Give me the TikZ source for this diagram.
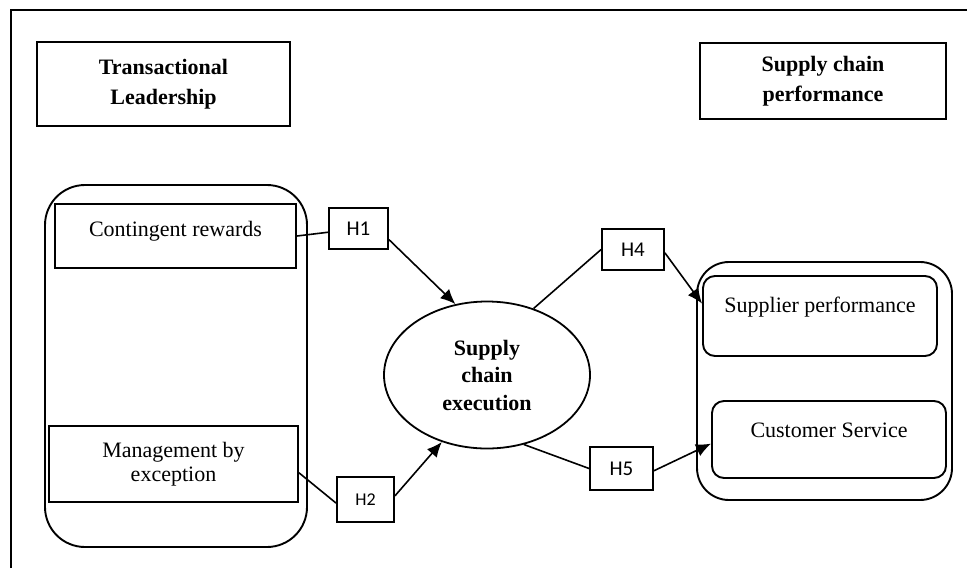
\documentclass[tikz,border=0pt]{standalone}
\usepackage{fontspec}
\setmainfont{Liberation Serif}
\newfontfamily\hypfont{Carlito}
\usetikzlibrary{arrows.meta,shapes.geometric}

\begin{document}
\begin{tikzpicture}[x=0.5pt, y=-0.5pt, line width=0.8pt, every node/.style={font=\fontsize{11}{14}\selectfont}]
\tikzset{hdr/.style={draw, line width=1pt, align=center, inner sep=0pt, font=\fontsize{11}{15}\selectfont\bfseries}}
\tikzset{grp/.style={draw, line width=0.95pt, inner sep=0pt}}
\tikzset{dim/.style={draw, line width=0.95pt, inner sep=2pt}}
\tikzset{dimr/.style={draw, line width=0.95pt, rounded corners=6pt, inner sep=2pt}}
\tikzset{hyp/.style={draw, line width=0.9pt, inner sep=0pt, font=\hypfont\fontsize{10.5}{12}\selectfont}}
\tikzset{var/.style={draw, ellipse, line width=0.9pt, inner sep=0pt, align=center, font=\fontsize{11}{13.75}\selectfont\bfseries}}
\tikzset{arr/.style={-{Latex[length=7.5pt,width=6.5pt]}}}
\useasboundingbox (0,0) rectangle (967,568);
\draw[line width=1.2pt] (11,568) -- (11,10) -- (967,10);
% headings
\node[hdr, minimum width=126.5pt, minimum height=42pt] (tl) at (163.5,84) {Transactional\\Leadership};
\node[hdr, minimum width=123pt, minimum height=38pt] (scp) at (823,81) {Supply chain\\performance};
% left group
\node[grp, rounded corners=20pt, minimum width=131pt, minimum height=181pt] (lgrp) at (176,366) {};
\node[dim, minimum width=120.5pt, minimum height=32pt, text height=7.5pt, text depth=7.5pt] (cr) at (175.5,236) {Contingent rewards};
\node[dim, minimum width=124.5pt, minimum height=38pt, align=center, font=\fontsize{11}{12}\selectfont] (mbe) at (173.5,464) {Management by\\exception};
% mediator
\node[var, minimum width=103pt, minimum height=73.5pt] (sce) at (487,375) {Supply\\chain\\execution};
% right group
\node[grp, rounded corners=16pt, minimum width=127.5pt, minimum height=119pt] (rgrp) at (824.5,381) {};
\node[dimr, minimum width=117pt, minimum height=40pt, text height=7.5pt, text depth=11.5pt] (sp) at (820,316) {Supplier performance};
\node[dimr, minimum width=117pt, minimum height=38.5pt, text height=7.5pt, text depth=10pt] (cs) at (829,439.5) {Customer Service};
% hypotheses
\node[hyp, minimum width=29.5pt, minimum height=20.5pt] (h1) at (358.5,228.5) {H1};
\node[hyp, minimum width=28.5pt, minimum height=22.5pt, font=\hypfont\fontsize{9}{11}\selectfont] (h2) at (365.5,499.5) {H2};
\node[hyp, minimum width=31pt, minimum height=20.5pt] (h4) at (633,249.5) {H4};
\node[hyp, minimum width=31.5pt, minimum height=21.5pt] (h5) at (621.5,468.5) {H5};
% paths
\draw (cr.east) -- (h1.187);
\draw[arr] (h1.-20) -- (sce.114);
\draw (mbe.-4) -- (h2.187);
\draw[arr] (h2.7) -- (sce.236);
\draw (sce.55) -- (h4.west);
\draw[arr] (h4.-6) -- (sp.174);
\draw (sce.-62) -- (h5.west);
\draw[arr] (h5.-4) -- (cs.182);
\end{tikzpicture}
\end{document}
